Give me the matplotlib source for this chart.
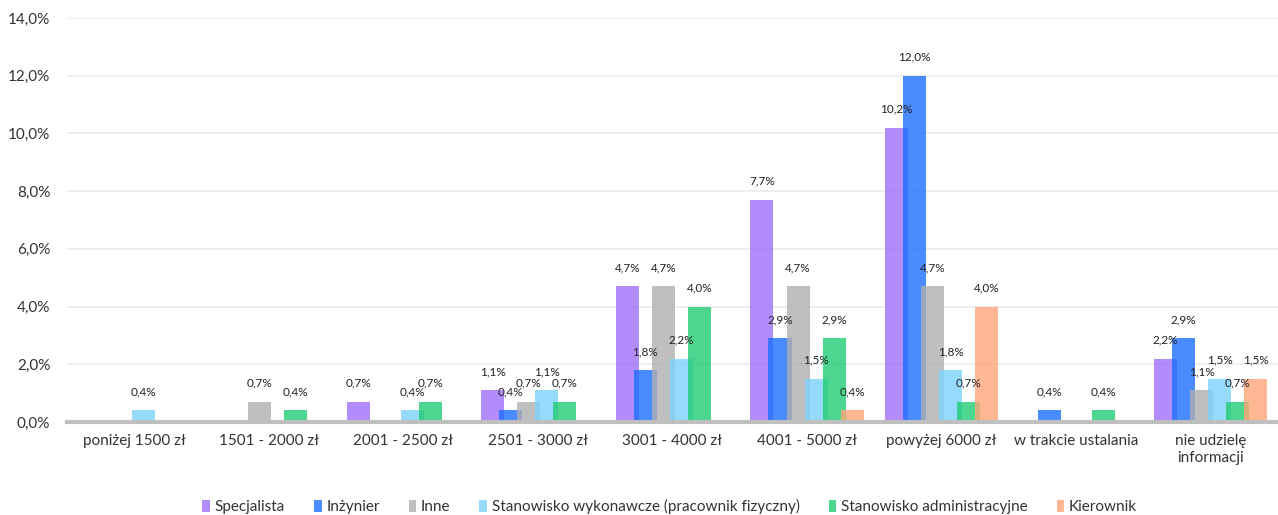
import matplotlib.pyplot as plt
import numpy as np

plt.rcParams['font.family'] = ['Lato', 'DejaVu Sans']

categories = ["poniżej 1500 zł", "1501 - 2000 zł", "2001 - 2500 zł", "2501 - 3000 zł",
              "3001 - 4000 zł", "4001 - 5000 zł", "powyżej 6000 zł",
              "w trakcie ustalania", "nie udzielę\ninformacji"]

series_names = ["Specjalista", "Inżynier", "Inne",
                "Stanowisko wykonawcze (pracownik fizyczny)",
                "Stanowisko administracyjne", "Kierownik"]

specjalista = [0, 0, 0.7, 1.1, 4.7, 7.7, 10.2, 0, 2.2]
inzynier = [0, 0, 0, 0.4, 1.8, 2.9, 12.0, 0.4, 2.9]
inne = [0, 0.7, 0, 0.7, 4.7, 4.7, 4.7, 0, 1.1]
wykonawcze = [0.4, 0, 0.4, 1.1, 2.2, 1.5, 1.8, 0, 1.5]
administracyjne = [0, 0.4, 0.7, 0.7, 4.0, 2.9, 0.7, 0.4, 0.7]
kierownik = [0, 0, 0, 0, 0, 0.4, 4.0, 0, 1.5]

series = [specjalista, inzynier, inne, wykonawcze, administracyjne, kierownik]
colors = ["#A06FFA", "#1D6FFF", "#AFAFAF", "#7CD1FC", "#1FCC73", "#FFA477"]

fig = plt.figure(figsize=(12.78, 5.15), dpi=100)
ax = fig.add_axes([0.0524, 0.1806, 0.9476, 0.7845])

x = np.arange(len(categories))
step = 0.134
width = 0.171

for i, (vals, name, col) in enumerate(zip(series, series_names, colors)):
    pos = x + (i - 2.5) * step
    vals = np.array(vals)
    ax.bar(pos, vals, width, color=col, alpha=0.8, label=name, zorder=3)
    for px, v in zip(pos, vals):
        if v > 0:
            ax.text(px, v + 0.45, f"{v:.1f}%".replace(".", ","), ha="center",
                    va="bottom", fontsize=8.5, color="#222222", zorder=4)

ax.set_xlim(-0.5, len(categories) - 0.5)
ax.set_ylim(0, 14)
ax.set_yticks(np.arange(0, 14.1, 2))
ax.set_yticklabels([f"{t:.1f}%".replace(".", ",") for t in np.arange(0, 14.1, 2)])
ax.set_xticks(x)
ax.set_xticklabels(categories)
ax.tick_params(axis="both", length=0, labelsize=11, colors="#333333")
ax.tick_params(axis="x", pad=9)
ax.tick_params(axis="y", pad=12)
ax.yaxis.grid(True, color="#EBEBEB", linewidth=1.2, zorder=0)
for s in ["top", "right", "left"]:
    ax.spines[s].set_visible(False)
ax.spines["bottom"].set_color("#BFBFBF")
ax.spines["bottom"].set_linewidth(3)
ax.spines["bottom"].set_zorder(5)

fig.legend(loc="lower center", bbox_to_anchor=(0.524, -0.025), ncol=6, frameon=False,
           fontsize=11, handlelength=0.5, handleheight=0.8, handletextpad=0.3,
           columnspacing=1.9, labelcolor="#333333")

fig.savefig("out.png", dpi=100)
